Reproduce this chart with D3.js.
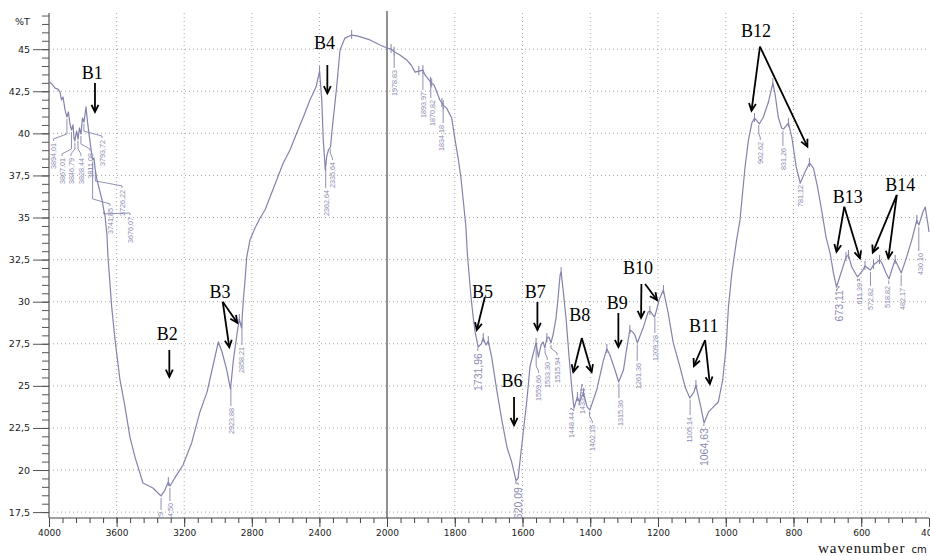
<!DOCTYPE html>
<html><head><meta charset="utf-8">
<script src="https://cdn.jsdelivr.net/npm/d3@7/dist/d3.min.js"></script>
<style>body{margin:0;background:#fff}svg{display:block}</style>
</head><body>
<svg id="chart" width="930" height="556"></svg>
<script>
// ---------- data ----------
const wavenumbers = [4000,3982,3964,3947,3935,3926,3917,3905,3894,3885,3876,3867,3858,3852,3847,3837,3828,3820,3811,3802,3793,3781,3772,3760,3749,3742,3734,3726,3716,3701,3686,3676,3669,3657,3651,3629,3609,3580,3554,3521,3491,3444,3385,3337,3314,3294,3284,3249,3207,3156,3107,3065,3030,2998,2976,2948,2926,2909,2886,2874,2861,2850,2840,2830,2811,2781,2751,2722,2692,2653,2614,2574,2534,2495,2456,2420,2399,2386,2377,2365,2357,2347,2334,2325,2298,2278,2249,2209,2172,2101,2041,2000,
1988,1979,1962,1942,1929,1917,1906,1894,1888,1868,1861,1853,1844,1834,1824,1809,1799,1790,1782,1775,1767,1763,1757,1752,1746,1740,1731,1722,1716,1708,1701,1691,1676,1661,1646,1632,1625,1619,1613,1607,1597,1587,1578,1568,1560,1553,1545,1539,1534,1528,1522,1516,1510,1501,1495,1489,1486,1480,1471,1463,1454,1448,1438,1432,1420,1409,1401,1381,1361,1351,1342,1327,1316,1302,1292,1283,1275,1268,1261,1243,1229,1224,1210,1204,1197,1184,1170,1155,1135,1120,1106,1094,1088,1083,1076,1064,1051,1037,1022,1009,999,992,982,968,958,943,933,923,915,907,901,889,874,861,854,845,835,829,815,805,792,780,766,753,741,729,717,704,692,682,673,657,645,638,628,611,595,589,573,564,546,539,527,518,510,500,490,482,466,451,436,430,418,411,402,400];
const transmittance = [43.07,42.93,42.69,42.63,42.46,41.98,42.16,41.39,40.97,41.27,40.56,40.20,40.50,39.72,39.55,40.14,39.66,40.32,39.96,40.91,40.67,41.57,40.67,39.72,38.89,38.42,38.54,37.82,37.23,36.64,36.04,35.45,35.15,33.96,32.65,29.69,27.72,25.35,23.98,21.96,20.77,19.23,18.93,18.46,18.81,19.29,19.05,19.64,20.30,21.61,23.45,24.63,26.18,27.61,27.01,25.94,24.81,26.53,28.20,28.97,28.44,30.10,31.29,32.65,33.66,34.38,34.97,35.45,36.22,37.23,38.24,39.01,40.02,40.97,41.98,42.75,43.70,41.98,39.60,37.82,38.60,39.01,39.19,40.20,42.75,44.95,45.66,45.84,45.78,45.55,45.25,45.07,
45.01,44.85,44.65,44.36,44.06,43.64,43.70,43.76,43.47,42.97,42.87,42.46,41.98,41.68,41.50,40.91,39.60,38.53,37.41,36.04,34.44,32.89,31.47,30.28,29.15,28.20,27.31,27.49,27.84,27.43,27.66,26.71,24.75,22.97,21.37,20.48,19.88,19.35,19.52,20.59,22.38,24.16,26.12,26.95,27.55,26.71,27.43,27.61,27.25,27.84,27.90,27.55,28.02,29.03,30.22,31.59,31.76,30.69,28.91,26.83,24.75,23.68,24.34,24.04,24.57,23.74,23.57,24.75,26.53,27.19,26.83,25.94,25.23,25.94,27.25,28.32,28.20,28.02,27.55,28.50,29.39,29.45,29.09,29.51,30.10,30.69,29.33,27.55,26.12,24.93,24.28,24.63,25.05,24.57,23.98,22.79,23.45,23.74,24.04,25.35,27.31,29.69,31.70,33.66,34.85,38.00,39.61,40.61,40.91,40.73,40.56,40.97,41.86,42.99,42.28,40.97,40.32,40.26,40.61,39.78,38.00,37.05,37.71,38.24,37.94,36.81,35.45,33.84,32.89,31.70,30.87,31.88,32.65,32.77,32.06,31.47,31.88,32.12,31.88,32.18,32.48,32.30,31.70,31.35,31.88,32.48,32.06,31.70,32.65,33.66,34.85,34.55,35.33,35.62,34.44,34.14];

const xTickValues = [4000,3600,3200,2800,2400,2000,1800,1600,1400,1200,1000,800,600,400];
const yTickValues = [17.5,20,22.5,25,27.5,30,32.5,35,37.5,40,42.5,45];

const peakWavenumbers = [3894.01,3867.01,3846.79,3828.44,3811.08,3793.72,3741.85,3726.22,3676.07,3337,3284.5,2923.88,2858.21,2362.64,2335.64,1978.83,1893.97,1870.82,1834.18,1731.96,1620.09,1559.66,1533.30,1515.94,1448.44,1433.01,1402.15,1315.36,1261.36,1209.28,1105.14,1064.63,902.62,831.26,781.12,673.11,611.39,572.82,518.82,482.17,430.10];
const peakLabels = ["3894,01","3867,01","3846,79","3828,44","3811,08","3793,72","3741,85","3726,22","3676,07","3337,29","3284,50","2923,88","2858,21","2362,64","2335,64","1978,83","1893,97","1870,82","1834,18","1731,96","1620,09","1559,66","1533,30","1515,94","1448,44","1433,01","1402,15","1315,36","1261,36","1209,28","1105,14","1064,63","902,62","831,26","781,12","673,11","611,39","572,82","518,82","482,17","430,10"];
const peakLabelWavenumbers = [3973,3923,3870,3811,3757,3686,3639,3568,3521,3343,3280,2923,2861,2361,2323,1979,1894,1867,1838,1731,1613,1553,1527,1498,1457,1424,1394,1312,1258,1209,1106,1063,898,830,779,666,605,572,522,478,426];
const peakLabelTops = [39.43,38.54,38.54,38.54,38.83,39.60,35.57,36.64,35.03,17.51,18.04,23.68,27.31,36.63,38.30,43.76,42.46,41.98,40.50,26.95,18.99,25.65,26.42,26.71,23.45,24.87,22.67,24.16,26.36,28.02,23.15,22.49,39.49,39.13,36.93,30.69,31.11,30.81,30.93,30.81,32.89];
const largePeakLabels = ["1731,96","1620,09","1064,63","673,11"];

const markWavenumbers = [3294,2874,2399,2209,1988,1979,1906,1894,1872,1868,1838,1834,1716,1701,1560,1528,1486,1438,1420,1351,1283,1224,1184,1088,915,861,815,753,645,638,589,564,546,500,436];

const bandNames = ["B1","B2","B3","B4","B5","B6","B7","B8","B9","B10","B11","B12","B13","B14"];
const bandTextAt = [[3744,43.23],[3300,27.72],[2988,30.22],[2370,45.01],[1718,30.22],[1631,24.93],[1562,30.22],[1431,28.85],[1320,29.57],[1259,31.65],[1065,28.20],[911,45.72],[640,35.86],[485,36.57]];
const bandArrows = [
  [[[3728,42.99],[3728,41.27]]],
  [[[3288,27.13],[3288,25.53]]],
  [[[2972,29.99],[2886,28.75]],[[2972,29.99],[2933,27.29]]],
  [[[2353,44.06],[2353,42.38]]],
  [[[1711,30.28],[1735,28.32]]],
  [[[1625,24.34],[1625,22.67]]],
  [[[1556,29.98],[1556,28.32]]],
  [[[1425,27.84],[1450,25.82]],[[1425,27.84],[1396,25.82]]],
  [[[1317,29.33],[1317,27.31]]],
  [[[1249,31.05],[1250,29.03]],[[1238,31.05],[1203,30.10]]],
  [[[1061,27.72],[1094,26.18]],[[1061,27.72],[1047,25.11]]],
  [[[899,45.15],[924,41.35]],[[899,45.15],[759,39.21]]],
  [[[650,35.64],[673,32.97]],[[650,35.64],[604,32.58]]],
  [[[495,36.34],[566,32.92]],[[495,36.34],[520,32.58]]]
];

// ---------- scales ----------
const svg = d3.select("#chart");
const x = d3.scaleLinear().domain([4000,2000,400]).range([49,387,929]);
const y = d3.scaleLinear().domain([17.15,47.15]).range([518,13]);
const X0 = 49, X1 = 929, Y0 = 518, Y1 = 13;
const fmt = v => String(v).replace(".", ",");
const curveColor = "#8383ad";

svg.append("defs").append("clipPath").attr("id","plotclip")
  .append("rect").attr("x",X0).attr("y",0).attr("width",X1-X0+2).attr("height",Y0);

// grid
const grid = svg.append("g");
grid.selectAll("line.vg").data(xTickValues.filter(v => v!==2000 && v!==4000 && v!==400)).join("line")
  .attr("x1",d=>x(d)).attr("x2",d=>x(d)).attr("y1",Y1).attr("y2",Y0)
  .attr("stroke","#a8a8a8").attr("stroke-width",1).attr("stroke-dasharray","1,3");
grid.selectAll("line.hg").data(yTickValues).join("line")
  .attr("x1",X0).attr("x2",X1).attr("y1",d=>y(d)).attr("y2",d=>y(d))
  .attr("stroke","#a8a8a8").attr("stroke-width",1).attr("stroke-dasharray","1,3");

// axis split line at 2000
svg.append("line").attr("x1",x(2000)).attr("x2",x(2000)).attr("y1",Y1-2).attr("y2",Y0)
  .attr("stroke","#555").attr("stroke-width",1.3);

// y axis
const yMinor = d3.range(17.5, 47.01, 0.5);
const yAxisMinor = d3.axisLeft(y).tickValues(yMinor).tickSize(7).tickFormat("");
const gyMin = svg.append("g").attr("transform",`translate(${X0},0)`).call(yAxisMinor);
const yAxis = d3.axisLeft(y).tickValues(yTickValues).tickSize(16).tickPadding(3).tickFormat(fmt);
const gy = svg.append("g").attr("transform",`translate(${X0},0)`).call(yAxis);
[gy, gyMin].forEach(g => { g.select(".domain").remove(); g.selectAll("line").attr("stroke","#555"); });
gy.selectAll("text").attr("font-family","DejaVu Sans").attr("font-size",9.5).attr("fill","#222");
svg.append("line").attr("x1",X0).attr("x2",X0).attr("y1",Y1).attr("y2",Y0).attr("stroke","#555").attr("stroke-width",1.2);
svg.append("text").attr("x",15).attr("y",25).text("%T")
  .attr("font-family","DejaVu Sans").attr("font-size",9.5).attr("fill","#222");

// x axis
const xMinor = d3.range(4000, 2000, -80).concat(d3.range(2000, 399, -40));
const xAxisMinor = d3.axisBottom(x).tickValues(xMinor).tickSize(5).tickFormat("");
const gxMin = svg.append("g").attr("transform",`translate(0,${Y0})`).call(xAxisMinor);
const xAxis = d3.axisBottom(x).tickValues(xTickValues).tickSize(9).tickPadding(3).tickFormat(d=>String(d));
const gx = svg.append("g").attr("transform",`translate(0,${Y0})`).call(xAxis);
[gx, gxMin].forEach(g => { g.select(".domain").remove(); g.selectAll("line").attr("stroke","#444"); });
gx.selectAll("text").attr("font-family","DejaVu Sans").attr("font-size",9).attr("fill","#222");
svg.append("line").attr("x1",X0).attr("x2",X1).attr("y1",Y0).attr("y2",Y0).attr("stroke","#444").attr("stroke-width",1.2);

const xl = svg.append("text").attr("x",818).attr("y",553).attr("fill","#111");
xl.append("tspan").text("wavenumber").attr("font-family","Liberation Serif").attr("font-size",15).attr("letter-spacing",1);
xl.append("tspan").text("cm").attr("font-family","DejaVu Sans").attr("font-size",10).attr("dx",6);

// ---------- spectrum ----------
const data = wavenumbers.map((w,i)=>({w, t: transmittance[i]}));
const plot = svg.append("g").attr("clip-path","url(#plotclip)");
plot.append("path").datum(data)
  .attr("d", d3.line().x(d=>x(d.w)).y(d=>y(d.t)))
  .attr("fill","none").attr("stroke",curveColor).attr("stroke-width",1.2).attr("stroke-linejoin","round");

function curveAt(w){
  for (let i=0;i<wavenumbers.length-1;i++){
    const a=wavenumbers[i], b=wavenumbers[i+1];
    if (w<=a && w>=b){ const f=(a-w)/(a-b||1); return transmittance[i]+(transmittance[i+1]-transmittance[i])*f; }
  }
  return transmittance[transmittance.length-1];
}

// peak marks
plot.selectAll("line.mark").data(markWavenumbers).join("line")
  .attr("x1",d=>x(d)).attr("x2",d=>x(d))
  .attr("y1",d=>y(curveAt(d))-5).attr("y2",d=>y(curveAt(d))+4)
  .attr("stroke",curveColor).attr("stroke-width",1);

// peak labels with leaders
peakWavenumbers.forEach((w,i)=>{
  const px = x(w), py = y(curveAt(w)) + 2;
  const lx = x(peakLabelWavenumbers[i]), ly = y(peakLabelTops[i]);
  const big = largePeakLabels.includes(peakLabels[i]);
  let pts;
  if (Math.abs(lx-px) < 1.5) pts = [[px,py],[px,ly-2]];
  else { const my = Math.max(py+2, ly-9); pts = [[px,py],[px,my],[lx,ly-4],[lx,ly-2]]; }
  plot.append("path").attr("d", d3.line()(pts)).attr("fill","none")
    .attr("stroke",curveColor).attr("stroke-width",0.9);
  plot.append("text").attr("transform",`translate(${lx},${ly}) rotate(-90)`)
    .attr("text-anchor","end").attr("dy","0.36em")
    .attr("font-family","Liberation Sans").attr("font-size", big ? 10.5 : 7.2)
    .attr("fill","#8a8ab0").text(peakLabels[i]);
});

// ---------- band annotations ----------
const ann = svg.append("g");
function arrow(x1,y1,x2,y2){
  ann.append("line").attr("x1",x1).attr("y1",y1).attr("x2",x2).attr("y2",y2)
    .attr("stroke","#000").attr("stroke-width",1.8);
  const ang = Math.atan2(y2-y1,x2-x1), L=8, s=0.45;
  const p = [[x2-L*Math.cos(ang-s), y2-L*Math.sin(ang-s)],[x2,y2],[x2-L*Math.cos(ang+s), y2-L*Math.sin(ang+s)]];
  ann.append("path").attr("d", d3.line()(p)).attr("fill","none")
    .attr("stroke","#000").attr("stroke-width",1.8).attr("stroke-linejoin","miter");
}
bandNames.forEach((name,i)=>{
  ann.append("text").attr("x",x(bandTextAt[i][0])).attr("y",y(bandTextAt[i][1]))
    .attr("text-anchor","middle").attr("font-family","Liberation Serif")
    .attr("font-size",18).attr("fill","#000").text(name);
  bandArrows[i].forEach(([s,t])=>arrow(x(s[0]),y(s[1]),x(t[0]),y(t[1])));
});
</script>
</body></html>
